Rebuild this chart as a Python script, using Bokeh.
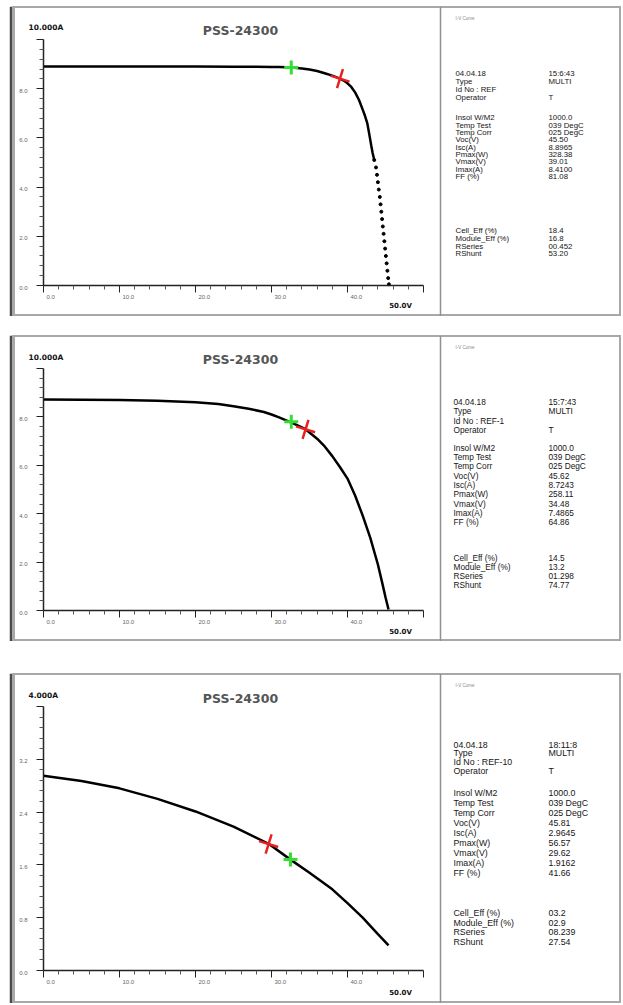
from bokeh.plotting import figure
from bokeh.models import Range1d, FixedTicker, Label, Span, Spacer, CustomLabelingPolicy
from bokeh.layouts import column, row
from bokeh.core.properties import value
from bokeh.embed import file_html
from bokeh.resources import INLINE

# ---------------- data ----------------
title_text = "PSS-24300"
header_text = "I-V Curve"
x_major = [0, 10, 20, 30, 40, 50]
x_labels = ["0.0", "10.0", "20.0", "30.0", "40.0"]
x_unit = "50.0V"

# panel 1 (REF)
V1 = [0, 5, 10, 15, 20, 25, 28, 30, 31, 32, 33, 34, 35, 36, 37, 38, 39, 39.5, 40, 40.5,
      41, 41.5, 42, 42.3, 42.6, 42.78, 42.95, 43.12, 43.3, 43.52, 43.75, 43.88, 44.0, 44.12,
      44.25, 44.35, 44.45, 44.55, 44.65, 44.75, 44.85, 44.95, 45.05, 45.15, 45.25, 45.35, 45.45]
I1 = [8.90, 8.90, 8.90, 8.90, 8.90, 8.89, 8.89, 8.88, 8.88, 8.87, 8.85, 8.82, 8.78, 8.72, 8.63,
      8.53, 8.41, 8.33, 8.22, 8.07, 7.85, 7.55, 7.15, 6.9, 6.6, 6.3, 6.0, 5.7, 5.4, 5.1, 4.8,
      4.5, 4.2, 3.9, 3.6, 3.3, 3.0, 2.7, 2.4, 2.1, 1.8, 1.5, 1.2, 0.9, 0.6, 0.3, 0.05]
y1_major = [0, 2, 4, 6, 8, 10]
y1_labels = ["0.0", "2.0", "4.0", "6.0", "8.0"]
y1_unit = "10.000A"
mpp1 = [39.01, 8.4100]
ref1 = [32.6, 8.86]
info1_labels = ["04.04.18", "Type", "Id No : REF", "Operator",
                "Insol W/M2", "Temp Test", "Temp Corr", "Voc(V)", "Isc(A)", "Pmax(W)", "Vmax(V)", "Imax(A)", "FF (%)",
                "Cell_Eff (%)", "Module_Eff (%)", "RSeries", "RShunt"]
info1_values = ["15:6:43", "MULTI", "", "T",
                "1000.0", "039 DegC", "025 DegC", "45.50", "8.8965", "328.38", "39.01", "8.4100", "81.08",
                "18.4", "16.8", "00.452", "53.20"]

# panel 2 (REF-1)
V2 = [0, 5, 10, 15, 20, 23, 25, 27, 29, 30, 31, 32, 33, 34.48, 36, 37, 38, 39, 40, 41, 42,
      43, 44, 44.6, 45.0, 45.4]
I2 = [8.72, 8.71, 8.70, 8.67, 8.61, 8.53, 8.44, 8.34, 8.20, 8.10, 7.98, 7.85, 7.71, 7.49, 7.10,
      6.78, 6.38, 5.93, 5.45, 4.75, 3.92, 3.00, 1.90, 1.10, 0.55, 0.04]
y2_major = [0, 2, 4, 6, 8, 10]
y2_labels = ["0.0", "2.0", "4.0", "6.0", "8.0"]
y2_unit = "10.000A"
mpp2 = [34.48, 7.4865]
ref2 = [32.6, 7.80]
info2_labels = ["04.04.18", "Type", "Id No : REF-1", "Operator",
                "Insol W/M2", "Temp Test", "Temp Corr", "Voc(V)", "Isc(A)", "Pmax(W)", "Vmax(V)", "Imax(A)", "FF (%)",
                "Cell_Eff (%)", "Module_Eff (%)", "RSeries", "RShunt"]
info2_values = ["15:7:43", "MULTI", "", "T",
                "1000.0", "039 DegC", "025 DegC", "45.62", "8.7243", "258.11", "34.48", "7.4865", "64.86",
                "14.5", "13.2", "01.298", "74.77"]

# panel 3 (REF-10)
V3 = [0, 5, 10, 15, 20, 25, 29.62, 32.5, 35, 38, 40, 42, 44, 45.4]
I3 = [2.95, 2.87, 2.76, 2.60, 2.41, 2.18, 1.92, 1.68, 1.48, 1.23, 1.02, 0.80, 0.55, 0.38]
y3_major = [0, 0.8, 1.6, 2.4, 3.2, 4.0]
y3_labels = ["0.0", "0.8", "1.6", "2.4", "3.2"]
y3_unit = "4.000A"
mpp3 = [29.62, 1.9162]
ref3 = [32.5, 1.68]
info3_labels = ["04.04.18", "Type", "Id No : REF-10", "Operator",
                "Insol W/M2", "Temp Test", "Temp Corr", "Voc(V)", "Isc(A)", "Pmax(W)", "Vmax(V)", "Imax(A)", "FF (%)",
                "Cell_Eff (%)", "Module_Eff (%)", "RSeries", "RShunt"]
info3_values = ["18:11:8", "MULTI", "", "T",
                "1000.0", "039 DegC", "025 DegC", "45.81", "2.9645", "56.57", "29.62", "1.9162", "41.66",
                "03.2", "02.9", "08.239", "27.54"]

# ---------------- layout / style ----------------
PAGE_X = 9                # left edge of the figures on the page
BAR = 4                   # dark left bar width
FL, FR = PAGE_X + BAR, 621  # frame left / right on page
X0, X50 = 43, 423         # page x of 0 V and 50 V
TEXT_FONT = "Liberation Sans"
NO_LABELS = "for (const i of indices) { indices.unset(i) }\nreturn indices"


def make_panel(V, I, n_line, ymax, y_major, y_labels, y_unit, mpp, ref, labels, values, G):
    T, H = G["top"], G["height"]
    B = T + H
    sx = (X50 - X0) / 50.0
    Y0, YT = G["y0"], G["ytop"]
    sy = (Y0 - YT) / ymax
    p = figure(width=FR - PAGE_X, height=H,
               x_range=Range1d((FL - X0) / sx, (FR - X0) / sx),
               y_range=Range1d(-(B - Y0) / sy, ymax + (YT - T) / sy),
               output_backend="svg", toolbar_location=None,
               min_border_left=BAR, min_border_right=0, min_border_top=0, min_border_bottom=0,
               border_fill_color="#4a4a4a", background_fill_color="white",
               outline_line_color="#a8a8a8", outline_line_width=3)
    p.xgrid.visible = False
    p.ygrid.visible = False
    xa, ya = p.xaxis[0], p.yaxis[0]
    xa.fixed_location = 0
    ya.fixed_location = 0
    xa.bounds = (0, 50)
    ya.bounds = (0, ymax)
    xa.ticker = FixedTicker(ticks=x_major, minor_ticks=[k for k in range(2, 50, 2) if k % 10])
    ystep = ymax / 25.0
    ya.ticker = FixedTicker(ticks=y_major, minor_ticks=[round(k * ystep, 3) for k in range(26) if k % 5])
    for a in (xa, ya):
        a.major_label_policy = CustomLabelingPolicy(code=NO_LABELS)
        a.axis_line_color = "#222222"
        a.axis_line_width = 1.5
        a.major_tick_line_color = "#222222"
        a.minor_tick_line_color = "#555555"
        a.major_tick_out = 7
        a.major_tick_in = 0
        a.minor_tick_out = 4
        a.minor_tick_in = 0

    # tick labels
    p.text(x=x_major[:5], y=[0] * 5, text=x_labels, x_offset=3, y_offset=11,
           text_align="left", text_baseline="middle", text_font=value(TEXT_FONT),
           text_font_size="6px", text_color="#666666")
    p.text(x=[0] * len(y_labels), y=y_major[:5], text=y_labels, x_offset=-16, y_offset=2,
           text_align="right", text_baseline="middle", text_font=value(TEXT_FONT),
           text_font_size="6px", text_color="#666666")

    # curve
    p.line(V[:n_line], I[:n_line], line_color="black", line_width=2.5)
    if n_line < len(V):
        p.scatter(V[n_line - 1:], I[n_line - 1:], size=3, color="black")
    p.scatter([ref[0]], [ref[1]], marker="cross", size=14, line_color="#33dd33", line_width=3)
    p.scatter([mpp[0]], [mpp[1]], marker="cross", size=20, angle=-0.3,
              line_color="#e82020", line_width=2.5)

    def lab(px, py, text, size, font=TEXT_FONT, style="normal", color="#151515", align="left"):
        p.add_layout(Label(x=px - FL, y=B - py, x_units="screen", y_units="screen", text=text,
                           text_font=font, text_font_size=size, text_font_style=style,
                           text_color=color, text_align=align, text_baseline="middle"))

    lab(240, G["title_y"], title_text, "12.5px", font="DejaVu Sans", style="bold", color="#555555", align="center")
    lab(28, G["unit_y"], y_unit, "7.5px", font="DejaVu Sans", style="bold", color="#111111")
    lab(400, G["xunit_y"], x_unit, "7px", font="DejaVu Sans", style="bold", color="#111111", align="center")
    lab(455, G["head_y"], header_text, "4.5px", color="#888888")

    p.add_layout(Span(location=440 - FL, location_units="screen", dimension="height",
                      line_color="#909090", line_width=1.5))

    blocks = [(0, 4, G["b1"]), (4, 13, G["b2"]), (13, 17, G["b3"])]
    for s, e, (y0, step) in blocks:
        for k in range(s, e):
            yy = y0 + (k - s) * step
            lab(G["lx"], yy, labels[k], G["fs"])
            if values[k]:
                lab(548, yy, values[k], G["fs"])
    return p


G1 = dict(top=6, height=310, y0=285, ytop=39, title_y=30, unit_y=27, xunit_y=305, head_y=18,
          b1=(72.5, 8.2), b2=(117.3, 7.35), b3=(230, 7.8), fs="7.8px", lx=455)
G2 = dict(top=335, height=306, y0=610, ytop=368, title_y=359, unit_y=357, xunit_y=631, head_y=347,
          b1=(401.7, 9.2), b2=(447.3, 9.3), b3=(557.3, 9.2), fs="8.3px", lx=453)
G3 = dict(top=673, height=330, y0=970, ytop=706, title_y=698, unit_y=695, xunit_y=992, head_y=685,
          b1=(744.3, 8.6), b2=(792.7, 10.0), b3=(912.3, 9.8), fs="8.8px", lx=453)

p1 = make_panel(V1, I1, 30, 10, y1_major, y1_labels, y1_unit, mpp1, ref1, info1_labels, info1_values, G1)
p2 = make_panel(V2, I2, len(V2), 10, y2_major, y2_labels, y2_unit, mpp2, ref2, info2_labels, info2_values, G2)
p3 = make_panel(V3, I3, len(V3), 4, y3_major, y3_labels, y3_unit, mpp3, ref3, info3_labels, info3_values, G3)

W = FR - PAGE_X
stack = column(Spacer(width=W, height=G1["top"]), p1,
               Spacer(width=W, height=G2["top"] - G1["top"] - G1["height"]), p2,
               Spacer(width=W, height=G3["top"] - G2["top"] - G2["height"]), p3)
layout = row(Spacer(width=PAGE_X, height=10), stack)
open("out.html", "w").write(file_html(layout, INLINE))
